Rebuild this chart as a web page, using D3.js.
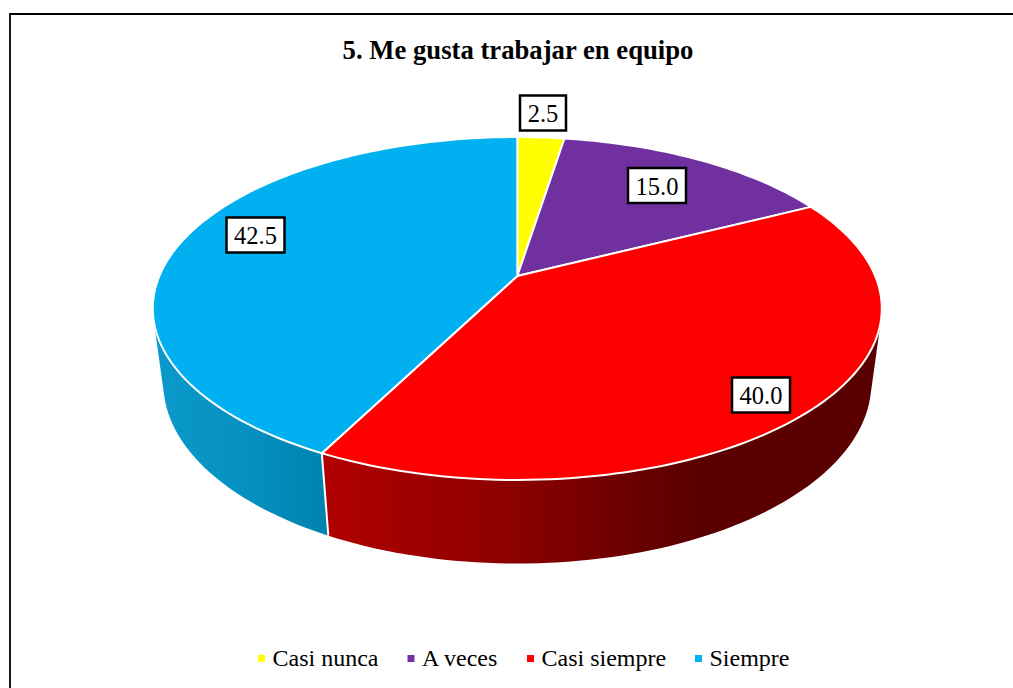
<!DOCTYPE html>
<html><head><meta charset="utf-8">
<script src="https://cdn.jsdelivr.net/npm/d3@7/dist/d3.min.js"></script>
<style>html,body{margin:0;padding:0;background:#fff}svg{display:block}text{font-family:"Liberation Serif",serif;fill:#000}</style>
</head><body><svg id="c" width="1013" height="688"></svg>
<script>
const categories = ["Casi nunca","A veces","Casi siempre","Siempre"];
const values = [2.5,15.0,40.0,42.5];
const colors = ["#FFFF00","#7030A0","#FF0000","#00B0F0"];
const labelBoxes = [[543,113,46],[657,185.5,58],[761,395,58],[255.5,235,58]];
const legendX = [258,407.5,527,695];

const svg = d3.select("#c");
const cx = 517.3, cy = 276, a = 357.9, b = 165.3, k = 0.1895, m = 0.0287, c = 76;
// perspective projection of the disc; h=0 top face, h=1 bottom face
const proj = (t,h) => { const u=Math.sin(t), v=Math.cos(t), w=1+k*v+m*h;
  return [cx+a*u/w, cy+(-b*v+c*h)/w]; };
const line = d3.line();
const arcs = d3.pie().value(d=>d).sort(null)(values);
const sample = (s,e) => d3.range(0,1.0001,1/Math.max(8,Math.ceil((e-s)*40))).map(f=>s+(e-s)*f);

const defs = svg.append("defs");
const grad = (id,x1,x2,stops) => { const g=defs.append("linearGradient").attr("id",id)
  .attr("gradientUnits","userSpaceOnUse").attr("x1",x1).attr("x2",x2).attr("y1",0).attr("y2",0);
  stops.forEach(s=>g.append("stop").attr("offset",s[0]).attr("stop-color",s[1])); };
grad("w2",328,880,[[0,"#B00000"],[0.348,"#8A0000"],[0.565,"#680000"],[0.674,"#5A0000"],[1,"#5A0000"]]);
grad("w3",153,328,[[0,"#0A9ACB"],[0.55,"#0590C0"],[1,"#0082AE"]]);
const wallFill = ["#CCCC00","#5A2680","url(#w2)","url(#w3)"];

svg.append("path").attr("d","M10,688V14H1013").attr("fill","none").attr("stroke","#000").attr("stroke-width",1.8);

svg.append("text").attr("x",518).attr("y",59).attr("text-anchor","middle")
  .attr("font-size",26.7).attr("font-weight","bold").text("5. Me gusta trabajar en equipo");

// walls: convex hull of each slice's top and bottom rim, so the silhouette is tangent to both discs.
// Drawn last slice first, so the red wall's hull edge falls exactly on the seam with the blue wall.
svg.append("g").selectAll("path").data(arcs.slice().reverse()).join("path")
  .attr("fill",d=>wallFill[d.index])
  .attr("d",d=>{ const ts=sample(d.startAngle,d.endAngle);
    return line(d3.polygonHull([...ts.map(t=>proj(t,0)),...ts.map(t=>proj(t,1))]))+"Z"; });
// seam between visible walls
const seam = arcs[2].endAngle;
svg.append("line").attr("x1",proj(seam,0)[0]).attr("y1",proj(seam,0)[1])
  .attr("x2",proj(seam,1)[0]).attr("y2",proj(seam,1)[1]).attr("stroke","#fff").attr("stroke-width",2);
// top face
svg.append("g").selectAll("path").data(arcs).join("path")
  .attr("fill",(d,i)=>colors[i]).attr("stroke","#fff").attr("stroke-width",2).attr("stroke-linejoin","round")
  .attr("d",d=>line([[cx,cy],...sample(d.startAngle,d.endAngle).map(t=>proj(t,0))])+"Z");

// data labels
const lab = svg.append("g").selectAll("g").data(values).join("g")
  .attr("transform",(d,i)=>`translate(${labelBoxes[i][0]},${labelBoxes[i][1]})`);
lab.append("rect").attr("x",(d,i)=>-labelBoxes[i][2]/2).attr("y",-17.5)
  .attr("width",(d,i)=>labelBoxes[i][2]).attr("height",35)
  .attr("fill","#fff").attr("stroke","#000").attr("stroke-width",2.5);
lab.append("text").attr("text-anchor","middle").attr("y",9).attr("font-size",24.5).text(d=>d.toFixed(1));

// legend
const leg = svg.append("g").selectAll("g").data(categories).join("g")
  .attr("transform",(d,i)=>`translate(${legendX[i]},0)`);
leg.append("rect").attr("y",655).attr("width",7).attr("height",7).attr("fill",(d,i)=>colors[i]);
leg.append("text").attr("x",14.5).attr("y",666).attr("font-size",24).text(d=>d);
</script></body></html>
